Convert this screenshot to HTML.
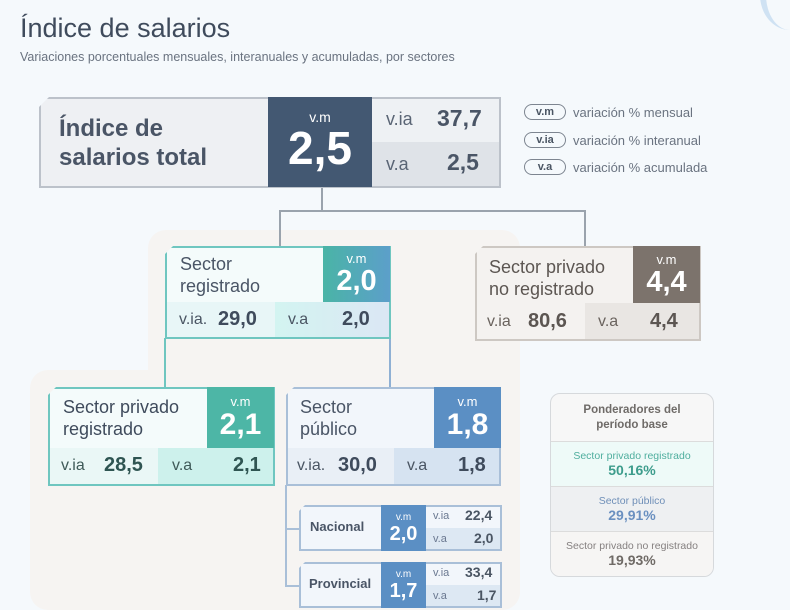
<!DOCTYPE html>
<html><head><meta charset="utf-8"><style>
*{margin:0;padding:0;box-sizing:border-box}
body{width:790px;height:610px;overflow:hidden;background:#f5f9fc;font-family:"Liberation Sans",sans-serif;position:relative;color:#4a5563}
.a{position:absolute}
.t{white-space:nowrap}
.ln{position:absolute;background:#9aa3ad}
.c{display:flex;align-items:center;justify-content:center;flex-direction:column}
</style></head><body>
<div class="a" style="right:-30px;top:-40px;width:60px;height:70px;border-radius:50%;border-left:6px solid #cfe2f3"></div>
<div class="a" style="left:148px;top:230px;width:372px;height:380px;background:#f6f4f2;border-radius:18px"></div>
<div class="a" style="left:30px;top:370px;width:490px;height:240px;background:#f6f4f2;border-radius:18px"></div>

<div class="a t" style="left:20px;top:13px;font-size:27px;color:#3f4b5c">Índice de salarios</div>
<div class="a t" style="left:20px;top:50px;font-size:12.5px;color:#6a7380">Variaciones porcentuales mensuales, interanuales y acumuladas, por sectores</div>

<div class="ln" style="left:321px;top:187px;width:2px;height:24px"></div>
<div class="ln" style="left:279px;top:210px;width:307px;height:2px"></div>
<div class="ln" style="left:279px;top:210px;width:2px;height:37px"></div>
<div class="ln" style="left:584px;top:210px;width:2px;height:37px"></div>
<div class="ln" style="left:164px;top:338px;width:2px;height:50px;background:#6fc6c0"></div>
<div class="ln" style="left:389px;top:338px;width:2px;height:50px;background:#8fb0d4"></div>
<div class="ln" style="left:285px;top:485px;width:2px;height:102px;background:#a9bfd8"></div>
<div class="ln" style="left:285px;top:528px;width:15px;height:2px;background:#a9bfd8"></div>
<div class="ln" style="left:285px;top:585px;width:15px;height:2px;background:#a9bfd8"></div>

<div class="a" style="left:39px;top:97px;width:462px;height:91px;border:2px solid #bcc2ca;background:#eef0f3;clip-path:polygon(10px 0,100% 0,100% 100%,0 100%,0 10px)"></div>
<div class="a" style="left:59px;top:114px;font-size:24px;font-weight:bold;line-height:29px;color:#4a5566">Índice de<br>salarios total</div>
<div class="a c" style="left:268px;top:97px;width:104px;height:90px;background:#435872;color:#fff">
<div style="font-size:14px;margin-top:-4px">v.m</div><div style="font-size:46px;font-weight:bold;line-height:46px">2,5</div></div>
<div class="a" style="left:372px;top:99px;width:127px;height:43px;background:#eef1f4"></div>
<div class="a" style="left:372px;top:142px;width:127px;height:44px;background:#dfe3e8"></div>
<div class="a t" style="left:386px;top:109px;font-size:18px;color:#5a6575">v.ia</div>
<div class="a t" style="left:437px;top:105px;font-size:23px;font-weight:bold;color:#4a5566">37,7</div>
<div class="a t" style="left:386px;top:154px;font-size:18px;color:#5a6575">v.a</div>
<div class="a t" style="left:447px;top:149px;font-size:23px;font-weight:bold;color:#4a5566">2,5</div>

<div class="a c" style="left:524px;top:104px;width:42px;height:16px;border:1.5px solid #7d8590;border-radius:8px;font-size:11px;font-weight:bold">v.m</div>
<div class="a t" style="left:573px;top:105px;font-size:13px;color:#6a7380">variación % mensual</div>
<div class="a c" style="left:524px;top:132px;width:42px;height:16px;border:1.5px solid #7d8590;border-radius:8px;font-size:11px;font-weight:bold">v.ia</div>
<div class="a t" style="left:573px;top:133px;font-size:13px;color:#6a7380">variación % interanual</div>
<div class="a c" style="left:524px;top:159px;width:42px;height:16px;border:1.5px solid #7d8590;border-radius:8px;font-size:11px;font-weight:bold">v.a</div>
<div class="a t" style="left:573px;top:160px;font-size:13px;color:#6a7380">variación % acumulada</div>

<div class="a" style="left:165px;top:246px;width:226px;height:93px;border:2px solid #6fc6c0;background:#f4fbfb;clip-path:polygon(8px 0,100% 0,100% 100%,0 100%,0 8px)"></div>
<div class="a" style="left:180px;top:253px;font-size:18px;line-height:22px;color:#4a5566">Sector<br>registrado</div>
<div class="a c" style="left:323px;top:246px;width:67px;height:56px;background:linear-gradient(90deg,#4ab4a6,#5c9fca);color:#fff">
<div style="font-size:13px;line-height:14px">v.m</div><div style="font-size:29px;font-weight:bold;line-height:30px">2,0</div></div>
<div class="a" style="left:167px;top:302px;width:108px;height:35px;background:#e8f6f7"></div>
<div class="a" style="left:275px;top:302px;width:114px;height:35px;background:linear-gradient(90deg,#d3f4f1,#dbe7f4)"></div>
<div class="a t" style="left:179px;top:311px;font-size:16px">v.ia.</div>
<div class="a t" style="left:218px;top:308px;font-size:20px;font-weight:bold;color:#3f4b5c">29,0</div>
<div class="a t" style="left:288px;top:311px;font-size:16px">v.a</div>
<div class="a t" style="left:342px;top:308px;font-size:20px;font-weight:bold;color:#3f4b5c">2,0</div>

<div class="a" style="left:475px;top:246px;width:226px;height:95px;border:2px solid #cdc8c3;background:#f4f2f0;clip-path:polygon(8px 0,100% 0,100% 100%,0 100%,0 8px)"></div>
<div class="a" style="left:489px;top:256px;font-size:18px;line-height:22px;color:#5c5652">Sector privado<br>no registrado</div>
<div class="a c" style="left:633px;top:246px;width:67px;height:57px;background:#7c736c;color:#fff">
<div style="font-size:13px;line-height:14px">v.m</div><div style="font-size:29px;font-weight:bold;line-height:30px">4,4</div></div>
<div class="a" style="left:585px;top:303px;width:114px;height:36px;background:#e9e6e3"></div>
<div class="a t" style="left:487px;top:313px;font-size:16px;color:#6a635e">v.ia</div>
<div class="a t" style="left:528px;top:310px;font-size:20px;font-weight:bold;color:#5c5652">80,6</div>
<div class="a t" style="left:598px;top:313px;font-size:16px;color:#6a635e">v.a</div>
<div class="a t" style="left:650px;top:310px;font-size:20px;font-weight:bold;color:#5c5652">4,4</div>

<div class="a" style="left:48px;top:387px;width:227px;height:99px;border:2px solid #6fc6c0;background:#f4fbfb;clip-path:polygon(8px 0,100% 0,100% 100%,0 100%,0 8px)"></div>
<div class="a" style="left:63px;top:396px;font-size:18px;line-height:22px;color:#3f4b5c">Sector privado<br>registrado</div>
<div class="a c" style="left:207px;top:387px;width:67px;height:61px;background:#4db6a6;color:#fff">
<div style="font-size:13px;line-height:14px">v.m</div><div style="font-size:30px;font-weight:bold;line-height:32px">2,1</div></div>
<div class="a" style="left:50px;top:448px;width:108px;height:36px;background:#eaf7f6"></div>
<div class="a" style="left:158px;top:448px;width:115px;height:36px;background:#cdf1ec"></div>
<div class="a t" style="left:61px;top:457px;font-size:16px;color:#3f5a58">v.ia</div>
<div class="a t" style="left:104px;top:454px;font-size:20px;font-weight:bold;color:#2f5552">28,5</div>
<div class="a t" style="left:172px;top:457px;font-size:16px;color:#3f5a58">v.a</div>
<div class="a t" style="left:233px;top:454px;font-size:20px;font-weight:bold;color:#2f5552">2,1</div>

<div class="a" style="left:286px;top:387px;width:215px;height:99px;border:2px solid #a9bfd8;background:#f2f6fb;clip-path:polygon(8px 0,100% 0,100% 100%,0 100%,0 8px)"></div>
<div class="a" style="left:300px;top:396px;font-size:18px;line-height:22px;color:#4a5566">Sector<br>público</div>
<div class="a c" style="left:434px;top:387px;width:67px;height:61px;background:#5b8fc4;color:#fff">
<div style="font-size:13px;line-height:14px">v.m</div><div style="font-size:30px;font-weight:bold;line-height:32px">1,8</div></div>
<div class="a" style="left:288px;top:448px;width:106px;height:36px;background:#e9eff6"></div>
<div class="a" style="left:394px;top:448px;width:105px;height:36px;background:#d6e3f1"></div>
<div class="a t" style="left:297px;top:457px;font-size:16px">v.ia.</div>
<div class="a t" style="left:338px;top:454px;font-size:20px;font-weight:bold;color:#3f4b5c">30,0</div>
<div class="a t" style="left:407px;top:457px;font-size:16px">v.a</div>
<div class="a t" style="left:458px;top:454px;font-size:20px;font-weight:bold;color:#3f4b5c">1,8</div>

<div class="a" style="left:299px;top:505px;width:203px;height:46px;border:2px solid #a9bfd8;background:#f2f6fb;clip-path:polygon(6px 0,100% 0,100% 100%,0 100%,0 6px)"></div>
<div class="a t" style="left:310px;top:519px;font-size:13px;font-weight:bold;color:#4a5566">Nacional</div>
<div class="a c" style="left:381px;top:505px;width:45px;height:46px;background:#5b8fc4;color:#fff"><div style="font-size:10px;line-height:11px">v.m</div><div style="font-size:20px;font-weight:bold;line-height:22px">2,0</div></div>
<div class="a" style="left:426px;top:528px;width:74px;height:21px;background:#dde8f3"></div>
<div class="a t" style="left:433px;top:510px;font-size:11px;color:#6a7890">v.ia</div>
<div class="a t" style="left:465px;top:507px;font-size:14px;font-weight:bold">22,4</div>
<div class="a t" style="left:433px;top:533px;font-size:11px;color:#6a7890">v.a</div>
<div class="a t" style="left:474px;top:530px;font-size:14px;font-weight:bold">2,0</div>

<div class="a" style="left:299px;top:562px;width:203px;height:46px;border:2px solid #a9bfd8;background:#f2f6fb;clip-path:polygon(6px 0,100% 0,100% 100%,0 100%,0 6px)"></div>
<div class="a t" style="left:309px;top:576px;font-size:13px;font-weight:bold;color:#4a5566">Provincial</div>
<div class="a c" style="left:381px;top:562px;width:45px;height:46px;background:#5b8fc4;color:#fff"><div style="font-size:10px;line-height:11px">v.m</div><div style="font-size:20px;font-weight:bold;line-height:22px">1,7</div></div>
<div class="a" style="left:426px;top:585px;width:74px;height:21px;background:#dde8f3"></div>
<div class="a t" style="left:433px;top:567px;font-size:11px;color:#6a7890">v.ia</div>
<div class="a t" style="left:465px;top:564px;font-size:14px;font-weight:bold">33,4</div>
<div class="a t" style="left:433px;top:590px;font-size:11px;color:#6a7890">v.a</div>
<div class="a t" style="left:477px;top:587px;font-size:14px;font-weight:bold">1,7</div>

<div class="a" style="left:550px;top:393px;width:164px;height:184px;border:1.5px solid #d6d9dc;border-radius:10px;overflow:hidden;background:#f7f7f7;text-align:center">
<div class="c" style="height:48px;font-size:11.5px;font-weight:bold;color:#6f6b68;line-height:15px;border-bottom:1px solid #dcdcdc">Ponderadores del<br>período base</div>
<div class="c" style="height:45px;background:#eefaf8;border-bottom:1px solid #dcdcdc"><div style="font-size:10.5px;color:#4fae9e">Sector privado registrado</div><div style="font-size:14px;font-weight:bold;color:#3d9c8c">50,16%</div></div>
<div class="c" style="height:45px;background:#eef0f2;border-bottom:1px solid #dcdcdc"><div style="font-size:10.5px;color:#6f8fb8">Sector público</div><div style="font-size:14px;font-weight:bold;color:#6a90c0">29,91%</div></div>
<div class="c" style="height:44px;background:#f6f5f4"><div style="font-size:10.5px;color:#858080">Sector privado no registrado</div><div style="font-size:14px;font-weight:bold;color:#6f6a66">19,93%</div></div>
</div>
</body></html>
